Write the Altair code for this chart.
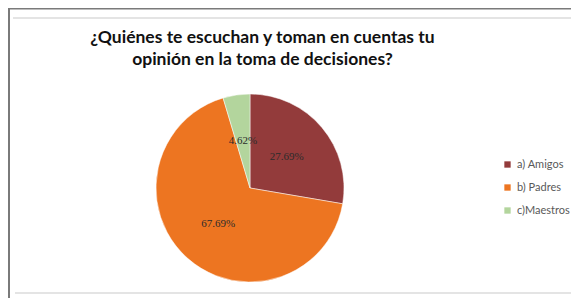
import altair as alt
import pandas as pd

categories = ["a) Amigos", "b) Padres", "c)Maestros"]
values = [27.69, 67.69, 4.62]
labels = ["27.69%", "67.69%", "4.62%"]
colors = ["#933B3B", "#ED7521", "#B3D59D"]
order = [0, 1, 2]

df = pd.DataFrame({"cat": categories, "val": values, "lab": labels, "ord": order})

W, H = 563, 290
CX, CY, R = 242, 180, 94

theta = alt.Theta("val:Q", stack=True)
color = alt.Color(
    "cat:N",
    scale=alt.Scale(domain=categories, range=colors),
    legend=alt.Legend(
        title=None,
        orient="none",
        legendX=494,
        legendY=151,
        symbolType="square",
        symbolSize=40,
        symbolStrokeWidth=0,
        labelFont="Lato",
        labelFontSize=11,
        labelColor="#595959",
        rowPadding=11,
        labelOffset=4,
    ),
)

pie = alt.Chart(df).mark_arc(stroke="white", strokeWidth=0.5).encode(
    theta=theta,
    color=color,
    order=alt.Order("ord:Q"),
    x=alt.value(CX),
    y=alt.value(CY),
    radius=alt.value(R),
)

text = alt.Chart(df).mark_text(
    font="Liberation Serif", fontSize=11, color="#2b2b2b"
).encode(
    theta=theta,
    text="lab:N",
    order=alt.Order("ord:Q"),
    x=alt.value(CX),
    y=alt.value(CY),
    radius=alt.value(48),
)

one = pd.DataFrame({"a": [0]})
rule_top = alt.Chart(one).mark_rule(color="#e4e4e4", strokeWidth=2).encode(
    x=alt.value(5), x2=alt.value(W), y=alt.value(10)
)
rule_bot = alt.Chart(one).mark_rule(color="#e4e4e4", strokeWidth=2).encode(
    x=alt.value(7), x2=alt.value(W), y=alt.value(285)
)
frame_top = alt.Chart(one).mark_rule(color="#7a7a7a", strokeWidth=3).encode(
    x=alt.value(0), x2=alt.value(W), y=alt.value(0)
)
frame_left = alt.Chart(one).mark_rule(color="#7a7a7a", strokeWidth=3).encode(
    x=alt.value(0.5), y=alt.value(0), y2=alt.value(H)
)

chart = alt.layer(rule_top, rule_bot, frame_top, frame_left, pie, text).properties(
    width=W,
    height=H,
    autosize=alt.AutoSizeParams(type="none"),
    padding=0,
    background="white",
    title=alt.TitleParams(
        text=["¿Quiénes te escuchan y toman en cuentas tu", "opinión en la toma de decisiones?"],
        font="Lato",
        fontSize=17.5,
        fontWeight="bold",
        color="#111111",
        anchor="middle",
        dx=-27,
        dy=66,
        lineHeight=22,
    ),
).configure_view(stroke=None, strokeWidth=0)

chart.save("out.html", embed_options={"renderer": "svg", "actions": False})
